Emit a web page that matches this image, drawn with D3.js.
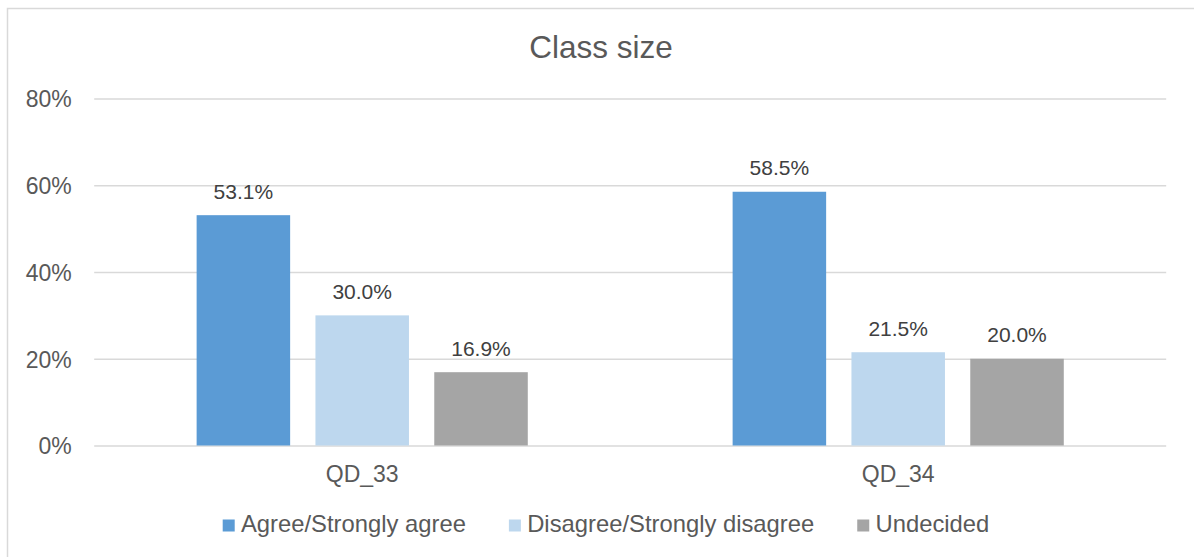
<!DOCTYPE html>
<html>
<head>
<meta charset="utf-8">
<script src="https://cdn.jsdelivr.net/npm/d3@7/dist/d3.min.js"></script>
<style>
  html, body { margin: 0; padding: 0; background: #fff; }
  svg { display: block; font-family: "Liberation Sans", Arial, sans-serif; }
</style>
</head>
<body>
<svg id="chart" width="1194" height="557"></svg>
<script>
// Survey responses on class size, by question
const categories = ["QD_33", "QD_34"];
const seriesNames = ["Agree/Strongly agree", "Disagree/Strongly disagree", "Undecided"];
const agree = [0.531, 0.585];
const disagree = [0.300, 0.215];
const undecided = [0.169, 0.200];
const yTicks = [0, 0.2, 0.4, 0.6, 0.8];
const seriesColors = ["#5B9BD5", "#BDD7EE", "#A5A5A5"];

const seriesValues = [agree, disagree, undecided];
const rows = categories.map((c, i) => ({
  category: c,
  values: seriesNames.map((s, k) => ({ series: s, idx: k, value: seriesValues[k][i] }))
}));

const svg = d3.select("#chart");
const textColor = "#595959";
const gridColor = "#D9D9D9";

// Outer chart frame
svg.append("rect")
  .attr("x", 7.5).attr("y", 8.5)
  .attr("width", 1200).attr("height", 560)
  .attr("fill", "none")
  .attr("stroke", gridColor)
  .attr("stroke-width", 1.5);

// Title
svg.append("text")
  .attr("x", 601).attr("y", 57.5)
  .attr("text-anchor", "middle")
  .attr("font-size", 31.5)
  .attr("fill", textColor)
  .text("Class size");

const plot = { left: 94.2, right: 1166.2, top: 98.5, bottom: 445.5 };

const y = d3.scaleLinear().domain([0, 0.8]).range([plot.bottom, plot.top]);
const x0 = d3.scaleBand().domain(categories).range([plot.left, plot.right]).padding(0);
const x1 = d3.scaleBand().domain(seriesNames).range([0, x0.bandwidth()])
  .paddingInner(0.213).paddingOuter(0.862);

// Horizontal gridlines and percentage axis
const yAxis = d3.axisLeft(y)
  .tickValues(yTicks)
  .tickFormat(d3.format(".0%"))
  .tickSize(-(plot.right - plot.left))
  .tickPadding(22.5);

const gy = svg.append("g")
  .attr("transform", `translate(${plot.left},0)`)
  .call(yAxis);
gy.select(".domain").remove();
gy.selectAll(".tick line").attr("stroke", gridColor).attr("stroke-width", 1.5);
gy.selectAll(".tick text")
  .attr("font-size", 23)
  .attr("font-family", "Liberation Sans, Arial, sans-serif")
  .attr("fill", textColor)
  .attr("dy", "0.36em");

// Category axis labels
const xAxis = d3.axisBottom(x0).tickSize(0).tickPadding(20);
const gx = svg.append("g")
  .attr("transform", `translate(0,${plot.bottom})`)
  .call(xAxis);
gx.select(".domain").remove();
gx.selectAll(".tick text")
  .attr("font-size", 23)
  .attr("font-family", "Liberation Sans, Arial, sans-serif")
  .attr("fill", textColor)
  .attr("dy", "0.71em");

// Bars
const groups = svg.append("g").selectAll("g")
  .data(rows)
  .join("g")
  .attr("transform", d => `translate(${x0(d.category)},0)`);

groups.selectAll("rect")
  .data(d => d.values)
  .join("rect")
  .attr("x", d => x1(d.series))
  .attr("y", d => y(d.value))
  .attr("width", x1.bandwidth())
  .attr("height", d => y(0) - y(d.value))
  .attr("fill", d => seriesColors[d.idx]);

// Value labels
groups.selectAll("text.value")
  .data(d => d.values)
  .join("text")
  .attr("class", "value")
  .attr("x", d => x1(d.series) + x1.bandwidth() / 2)
  .attr("y", d => y(d.value) - 16.4)
  .attr("text-anchor", "middle")
  .attr("font-size", 21)
  .attr("fill", "#404040")
  .text(d => d3.format(".1%")(d.value));

// Legend
const legend = svg.append("g");
let lx = 222.7;
seriesNames.forEach((name, k) => {
  legend.append("rect")
    .attr("x", lx).attr("y", 519.5)
    .attr("width", 12).attr("height", 12)
    .attr("fill", seriesColors[k]);
  const t = legend.append("text")
    .attr("x", lx + 18.3).attr("y", 531.7)
    .attr("font-size", 23.8)
    .attr("fill", textColor)
    .text(name);
  lx += 18.3 + t.node().getComputedTextLength() + 43;
});
</script>
</body>
</html>
